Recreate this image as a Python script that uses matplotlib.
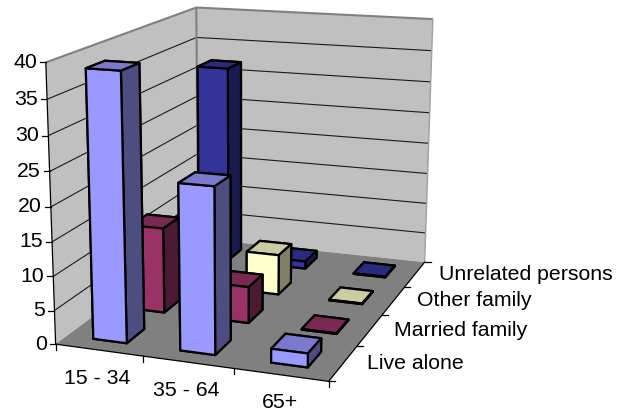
import numpy as np
import matplotlib
matplotlib.use("Agg")
import matplotlib.pyplot as plt
from matplotlib.lines import Line2D
from matplotlib.transforms import Affine2D
from mpl_toolkits.mplot3d.art3d import Poly3DCollection, Line3DCollection

plt.rcParams['font.family'] = ['Liberation Sans', 'DejaVu Sans']

categories = ['15 - 34', '35 - 64', '65+']
series = ['Live alone', 'Married family', 'Other family', 'Unrelated persons']
live_alone = [38.8, 24, 2]
married_family = [13, 5.5, 0.1]
other_family = [9.6, 6.3, 0.1]
unrelated_persons = [32, 1.2, 0.1]
values = [live_alone, married_family, other_family, unrelated_persons]
z_ticks = [0, 5, 10, 15, 20, 25, 30, 35, 40]
front = ['#9999FF', '#993366', '#FFFFCC', '#333399']
top = ['#7A7ACC', '#7A2952', '#CCCCA3', '#2A2A7F']
side = ['#4D4D80', '#4D1A33', '#808066', '#1A1A4D']

W, H = 617, 415
NX, NY, ZMAX = len(categories), len(series), z_ticks[-1]
FS = 15.3

# Camera: box corners (world) seen at these picture positions
world = np.array([[0, 0, 0], [NX, 0, 0], [0, NY, 0], [NX, NY, 0],
                  [0, 0, ZMAX], [0, NY, ZMAX], [NX, NY, ZMAX]], float)
image = np.array([[56, 343], [328, 383], [198, 240], [425, 260],
                  [46, 62], [196, 7], [433, 20]], float)
rows = []
for (a, b, c), (u, v) in zip(world, image):
    rows.append([a, b, c, 1, 0, 0, 0, 0, -u*a, -u*b, -u*c, -u])
    rows.append([0, 0, 0, 0, a, b, c, 1, -v*a, -v*b, -v*c, -v])
P = np.linalg.svd(np.array(rows))[2][-1].reshape(3, 4)
if P[2, 3] < 0:
    P = -P

def project(x, y, z):
    q = P @ np.array([x, y, z, 1.0])
    return q[0]/q[2], q[1]/q[2]

# depth row: farther = larger; only used for sorting faces
depth = np.array([-1.0, 1.0, -0.02, 0.0]) * P[2, 3]
M = np.vstack([P[0], P[1], depth, P[2]])

fig = plt.figure(figsize=(W/100, H/100), dpi=100)
ax = fig.add_axes([0, -(W-H)/2/H, 1, W/H], projection='3d', computed_zorder=False)
ax.set_axis_off()
ax.patch.set_visible(False)
ax.get_proj = lambda: M
ax.viewLim.intervalx = (0, W)
ax.viewLim.intervaly = ((W+H)/2, -(W-H)/2)

z = 1
def face(corners, color):
    global z
    ax.add_collection3d(Poly3DCollection([corners], facecolors=color, edgecolors='none', zorder=z))
    z += 1

def polyline(pts, color, lw):
    global z
    ax.add_collection3d(Line3DCollection([pts], colors=color, linewidths=lw, zorder=z,
                                         joinstyle='miter'))
    z += 1

face([(0, 0, 0), (0, NY, 0), (0, NY, ZMAX), (0, 0, ZMAX)], '#C0C0C0')
face([(0, NY, 0), (NX, NY, 0), (NX, NY, ZMAX), (0, NY, ZMAX)], '#C0C0C0')
face([(0, 0, 0), (NX, 0, 0), (NX, NY, 0), (0, NY, 0)], '#808080')

for v in z_ticks[1:-1]:
    polyline([(0, 0, v), (0, NY, v), (NX, NY, v)], '#1A1A1A', 0.8)
polyline([(0, 0, ZMAX), (0, NY, ZMAX), (NX, NY, ZMAX)], '#808080', 1.5)
polyline([(0, NY, 0), (0, NY, ZMAX)], '#808080', 1.5)
polyline([(NX, NY, 0), (NX, NY, ZMAX)], '#A0A0A0', 1.0)

bar_w, bar_d = 0.39, 0.45
for j in range(NY-1, -1, -1):
    for i in range(NX):
        h = values[j][i]
        x0, y0 = i + (1-bar_w)/2, j + (1-bar_d)/2
        # bottom, top, front, back, left, right
        cols = [side[j], top[j], front[j], side[j], side[j], side[j]]
        coll = ax.bar3d([x0], [y0], [0], bar_w, bar_d, [h], color=cols, shade=False,
                        edgecolor='black', linewidth=1.6, zorder=z)
        coll.set_facecolor(cols)
        z += 1

px = Affine2D().scale(1, -1).translate(0, H)
def seg(x0, y0, x1, y1):
    fig.add_artist(Line2D([x0, x1], [y0, y1], color='black', lw=0.9, transform=px, zorder=50))

# axis lines
a = project(0, 0, 0); b = project(0, 0, ZMAX)
seg(*a, *b)
c = project(NX, 0, 0); seg(*a, *c)
d = project(NX, NY, 0); seg(*c, *d)

# z ticks
for v in z_ticks:
    p = project(0, 0, v)
    seg(p[0]-6, p[1], p[0], p[1])
    fig.text(p[0]-9, p[1], str(v), transform=px, ha='right', va='center', fontsize=FS, color='black')
# category ticks
for i in range(NX+1):
    p = project(i, 0, 0)
    seg(p[0], p[1], p[0], p[1]+6)
for i, lab in enumerate(categories):
    p = project(i+0.5, 0, 0)
    fig.text(p[0]-1, p[1]+28, lab, transform=px, ha='center', va='center', fontsize=FS, color='black')
# series ticks
for j in range(NY+1):
    p = project(NX, j, 0)
    seg(p[0], p[1], p[0]+6, p[1])
for j, lab in enumerate(series):
    p = project(NX, j+0.5, 0)
    fig.text(p[0]+24, p[1], lab, transform=px, ha='left', va='center', fontsize=FS, color='black')

fig.savefig('out.png', dpi=100)
